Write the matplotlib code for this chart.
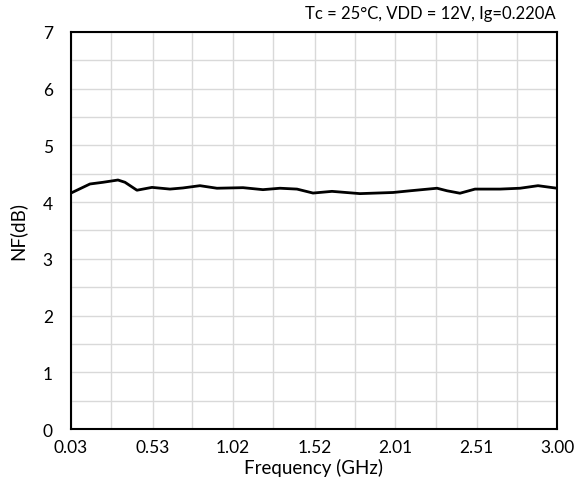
import numpy as np
import matplotlib
matplotlib.use("Agg")
from matplotlib import pyplot as plt

# 周波数(GHz)とNF(dB) 画像から読み取り
freq = [0.03, 0.146, 0.226, 0.317, 0.36, 0.433, 0.525, 0.635, 0.714, 0.818,
        0.922, 1.081, 1.203, 1.307, 1.411, 1.509, 1.625, 1.796, 1.998, 2.102,
        2.267, 2.328, 2.407, 2.499, 2.652, 2.774, 2.884, 3.00]
nf = [4.16, 4.32, 4.35, 4.39, 4.35, 4.21, 4.26, 4.23, 4.25, 4.29,
      4.245, 4.255, 4.22, 4.245, 4.23, 4.16, 4.19, 4.15, 4.17, 4.20,
      4.245, 4.20, 4.157, 4.23, 4.23, 4.245, 4.29, 4.245]

xticks = [0.03, 0.53, 1.02, 1.52, 2.01, 2.51, 3.00]
xticklabels = ["0.03", "0.53", "1.02", "1.52", "2.01", "2.51", "3.00"]
yticks = [0, 1, 2, 3, 4, 5, 6, 7]

plt.rcParams['font.family'] = ['Lato', 'DejaVu Sans']

fig = plt.figure(figsize=(5.78, 4.85), dpi=100)
ax = fig.add_axes([0.1228, 0.1134, 0.8409, 0.8186])

ax.plot(freq, nf, color="black", linewidth=2, solid_joinstyle="round")

ax.set_xlim(0.03, 3.00)
ax.set_ylim(0, 7)
ax.set_xticks(xticks)
ax.set_xticklabels(xticklabels)
ax.set_xticks(np.arange(0.03 + 0.2475, 3.0, 0.495), minor=True)
ax.set_yticks(yticks)
ax.set_yticks(np.arange(0.5, 7, 1.0), minor=True)
ax.grid(True, which="both", color="#d9d9d9", linewidth=1)
ax.set_axisbelow(True)
ax.tick_params(which="both", length=0, labelsize=12.5)
ax.tick_params(axis="x", pad=7)
ax.tick_params(axis="y", pad=13)

for s in ax.spines.values():
    s.set_color("black")
    s.set_linewidth(1.5)

ax.set_xlabel("Frequency (GHz)", fontsize=13.5, labelpad=2)
ax.set_ylabel("NF(dB)", fontsize=13.5, labelpad=12)
fig.text(0.962, 0.972, "Tc = 25°C, VDD = 12V, Ig=0.220A", ha="right", va="center", fontsize=12)

fig.savefig("out.png", dpi=100)
plt.close()
